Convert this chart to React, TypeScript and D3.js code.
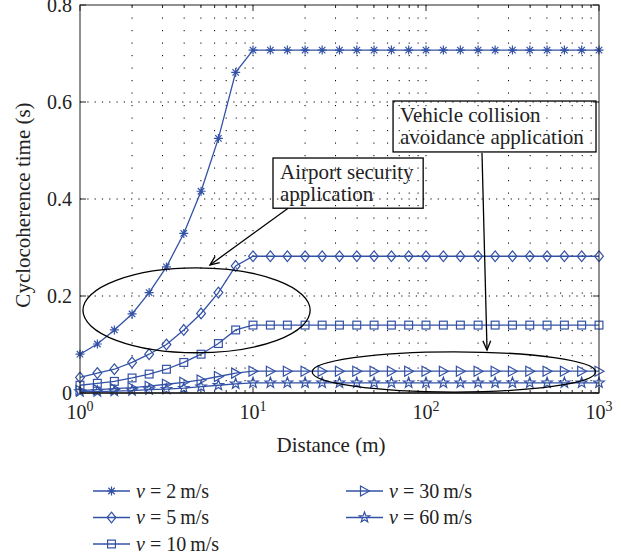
import * as d3 from "d3";

// distance (m), 10 points per decade
const distances = [
  1, 1.26, 1.58, 2, 2.51, 3.16, 3.98, 5.01, 6.31, 7.94,
  10, 12.6, 15.8, 20, 25.1, 31.6, 39.8, 50.1, 63.1, 79.4,
  100, 126, 158, 200, 251, 316, 398, 501, 631, 794, 1000,
];

const v2 = [
  0.08, 0.101, 0.13, 0.163, 0.207, 0.26, 0.329, 0.416, 0.525, 0.661,
  0.707, 0.707, 0.707, 0.707, 0.707, 0.707, 0.707, 0.707, 0.707, 0.707,
  0.707, 0.707, 0.707, 0.707, 0.707, 0.707, 0.707, 0.707, 0.707, 0.707, 0.707,
];
const v5 = [
  0.032, 0.041, 0.049, 0.063, 0.08, 0.1, 0.13, 0.164, 0.207, 0.262,
  0.282, 0.282, 0.282, 0.282, 0.282, 0.282, 0.282, 0.282, 0.282, 0.282,
  0.282, 0.282, 0.282, 0.282, 0.282, 0.282, 0.282, 0.282, 0.282, 0.282, 0.282,
];
const v10 = [
  0.016, 0.02, 0.024, 0.031, 0.039, 0.049, 0.063, 0.08, 0.102, 0.13,
  0.14, 0.14, 0.14, 0.14, 0.14, 0.14, 0.14, 0.14, 0.14, 0.14,
  0.14, 0.14, 0.14, 0.14, 0.14, 0.14, 0.14, 0.14, 0.14, 0.14, 0.14,
];
const v30 = [
  0.005, 0.007, 0.009, 0.011, 0.014, 0.018, 0.022, 0.027, 0.034, 0.041,
  0.045, 0.045, 0.045, 0.045, 0.045, 0.045, 0.045, 0.045, 0.045, 0.045,
  0.045, 0.045, 0.045, 0.045, 0.045, 0.045, 0.045, 0.045, 0.045, 0.045, 0.045,
];
const v60 = [
  0.003, 0.003, 0.004, 0.005, 0.007, 0.008, 0.01, 0.013, 0.016, 0.019,
  0.021, 0.021, 0.021, 0.021, 0.021, 0.021, 0.021, 0.021, 0.021, 0.021,
  0.021, 0.021, 0.021, 0.021, 0.021, 0.021, 0.021, 0.021, 0.021, 0.021, 0.021,
];

const seriesNames = ["2", "5", "10", "30", "60"];
const seriesValues = [v2, v5, v10, v30, v60];
const seriesMarkers = ["asterisk", "diamond", "square", "triangle", "star"];

const yTicks = [0, 0.2, 0.4, 0.6, 0.8];
const xTicks = [1, 10, 100, 1000];
const xTickExp = ["0", "1", "2", "3"];

// annotation regions, in data units
const ellipses = [
  { x0: 1.04, x1: 21.4, y0: 0.083, y1: 0.258 },
  { x0: 22, x1: 955, y0: 0.002, y1: 0.085 },
];
const boxes = [
  { x0: 13.05, x1: 96.3, y0: 0.381, y1: 0.4845, lines: ["Airport security", "application"] },
  { x0: 64.5, x1: 961, y0: 0.497, y1: 0.602, lines: ["Vehicle collision", "avoidance application"] },
];
const arrows = [
  { x0: 15.95, y0: 0.381, x1: 5.64, y1: 0.264 },
  { x0: 210.7, y0: 0.495, x1: 225.3, y1: 0.0887 },
];

const W = 631;
const H = 558;
const m = { left: 80, right: 599, top: 5, bottom: 393 };
const blue = "#3352a6";
const font = "'Liberation Serif', 'DejaVu Serif', serif";

const x = d3.scaleLog().domain([1, 1000]).range([m.left, m.right]);
const y = d3.scaleLinear().domain([0, 0.8]).range([m.bottom, m.top]);

const Marker = ({ type, cx, cy }: { type: string; cx: number; cy: number }) => {
  const common = { fill: "none", stroke: blue, strokeWidth: 1.2 };
  if (type === "asterisk") {
    const r = 4.5;
    const d = r * 0.72;
    return (
      <path
        d={`M${cx - r},${cy}H${cx + r}M${cx},${cy - r}V${cy + r}M${cx - d},${cy - d}L${cx + d},${cy + d}M${cx - d},${cy + d}L${cx + d},${cy - d}`}
        {...common}
      />
    );
  }
  if (type === "diamond") {
    return <path d={`M${cx},${cy - 5.4}L${cx + 4.4},${cy}L${cx},${cy + 5.4}L${cx - 4.4},${cy}Z`} {...common} />;
  }
  if (type === "square") {
    return <rect x={cx - 3.9} y={cy - 3.9} width={7.8} height={7.8} {...common} />;
  }
  if (type === "triangle") {
    return <path d={`M${cx - 4},${cy - 5}L${cx + 5},${cy}L${cx - 4},${cy + 5}Z`} {...common} />;
  }
  const pts = d3.range(10).map((i) => {
    const a = -Math.PI / 2 + (i * Math.PI) / 5;
    const r = i % 2 === 0 ? 5.5 : 2.3;
    return [cx + r * Math.cos(a), cy + r * Math.sin(a)];
  });
  return <path d={"M" + pts.map((p) => p.join(",")).join("L") + "Z"} {...common} />;
};

const App = () => {
  const line = d3
    .line<number>()
    .x((_, i) => x(distances[i]))
    .y((d) => y(d));

  const minorX: number[] = [];
  [1, 10, 100].forEach((b) => {
    for (let k = 2; k <= 9; k++) minorX.push(b * k);
  });

  const arrowHead = (a: { x0: number; y0: number; x1: number; y1: number }) => {
    const px0 = x(a.x0), py0 = y(a.y0), px1 = x(a.x1), py1 = y(a.y1);
    const ang = Math.atan2(py1 - py0, px1 - px0);
    const len = 10, spread = 0.4;
    const l = [px1 - len * Math.cos(ang - spread), py1 - len * Math.sin(ang - spread)];
    const r = [px1 - len * Math.cos(ang + spread), py1 - len * Math.sin(ang + spread)];
    return `M${l[0]},${l[1]}L${px1},${py1}L${r[0]},${r[1]}`;
  };

  const legend = [
    { col: 0, row: 0 },
    { col: 0, row: 1 },
    { col: 0, row: 2 },
    { col: 1, row: 0 },
    { col: 1, row: 1 },
  ];

  return (
    <svg
      width={W}
      height={H}
      style={{ position: "absolute", left: 0, top: 0, background: "#fff" }}
      fontFamily={font}
    >
      {/* grid */}
      <g stroke="#000" strokeWidth={1}>
        {[...minorX, 10, 100].map((v) => (
          <line key={"gx" + v} x1={x(v)} x2={x(v)} y1={m.top} y2={m.bottom} strokeDasharray="1.2,11.3" />
        ))}
        {[0.2, 0.4, 0.6].map((v) => (
          <line key={"gy" + v} x1={m.left} x2={m.right} y1={y(v)} y2={y(v)} strokeDasharray="1.2,6.1" />
        ))}
      </g>

      {/* series */}
      {seriesValues.map((vals, si) => (
        <g key={si}>
          <path d={line(vals) ?? ""} fill="none" stroke={blue} strokeWidth={1.3} />
          {vals.map((v, i) => (
            <Marker key={i} type={seriesMarkers[si]} cx={x(distances[i])} cy={y(v)} />
          ))}
        </g>
      ))}

      {/* axes box and ticks */}
      <g stroke="#222" strokeWidth={1} fill="none">
        <rect x={m.left} y={m.top} width={m.right - m.left} height={m.bottom - m.top} />
        <line x1={m.left} x2={m.right} y1={m.bottom} y2={m.bottom} strokeWidth={1.6} />
        {minorX.map((v) => (
          <g key={"tx" + v}>
            <line x1={x(v)} x2={x(v)} y1={m.bottom} y2={m.bottom - 3} />
            <line x1={x(v)} x2={x(v)} y1={m.top} y2={m.top + 3} />
          </g>
        ))}
        {xTicks.map((v) => (
          <g key={"mx" + v}>
            <line x1={x(v)} x2={x(v)} y1={m.bottom} y2={m.bottom - 6} />
            <line x1={x(v)} x2={x(v)} y1={m.top} y2={m.top + 6} />
          </g>
        ))}
        {yTicks.map((v) => (
          <g key={"ty" + v}>
            <line x1={m.left} x2={m.left + 6} y1={y(v)} y2={y(v)} />
            <line x1={m.right} x2={m.right - 6} y1={y(v)} y2={y(v)} />
          </g>
        ))}
      </g>

      {/* tick labels */}
      <g fontSize={20} fill="#222">
        {yTicks.map((v) => (
          <text key={"ly" + v} x={72} y={y(v)} dy="0.34em" textAnchor="end">
            {v === 0 ? "0" : v.toFixed(1)}
          </text>
        ))}
        {xTicks.map((v, i) => (
          <text key={"lx" + v} x={x(v)} y={419} textAnchor="middle">
            10
            <tspan fontSize={14} dy={-8}>
              {xTickExp[i]}
            </tspan>
          </text>
        ))}
      </g>

      {/* axis titles */}
      <text x={331} y={452} fontSize={21} textAnchor="middle" fill="#222">
        Distance (m)
      </text>
      <text
        transform="translate(30,205) rotate(-90)"
        fontSize={21}
        textAnchor="middle"
        fill="#222"
      >
        Cyclocoherence time (s)
      </text>

      {/* annotations */}
      <g stroke="#000" strokeWidth={1.3} fill="none">
        {ellipses.map((e, i) => (
          <ellipse
            key={i}
            cx={(x(e.x0) + x(e.x1)) / 2}
            cy={(y(e.y0) + y(e.y1)) / 2}
            rx={(x(e.x1) - x(e.x0)) / 2}
            ry={(y(e.y0) - y(e.y1)) / 2}
          />
        ))}
        {arrows.map((a, i) => (
          <g key={i}>
            <line x1={x(a.x0)} y1={y(a.y0)} x2={x(a.x1)} y2={y(a.y1)} />
            <path d={arrowHead(a)} />
          </g>
        ))}
      </g>
      {boxes.map((b, i) => (
        <g key={i}>
          <rect
            x={x(b.x0)}
            y={y(b.y1)}
            width={x(b.x1) - x(b.x0)}
            height={y(b.y0) - y(b.y1)}
            fill="none"
            stroke="#000"
            strokeWidth={1.3}
          />
          {b.lines.map((t, j) => (
            <text key={j} x={x(b.x0) + 7} y={y(b.y1) + 21 + j * 22} fontSize={21} fill="#222">
              {t}
            </text>
          ))}
        </g>
      ))}

      {/* legend */}
      {legend.map((p, i) => {
        const lx = p.col === 0 ? 93 : 346;
        const ly = 491 + p.row * 26.5;
        return (
          <g key={"lg" + i}>
            <line x1={lx} x2={lx + 37} y1={ly} y2={ly} stroke={blue} strokeWidth={1.3} />
            <Marker type={seriesMarkers[i]} cx={lx + 18.5} cy={ly} />
            <text x={lx + 43} y={ly} dy="0.34em" fontSize={20} fill="#222">
              <tspan fontStyle="italic">ν</tspan>
              {` = ${seriesNames[i]}\u2009m/s`}
            </text>
          </g>
        );
      })}
    </svg>
  );
};

export default App;
